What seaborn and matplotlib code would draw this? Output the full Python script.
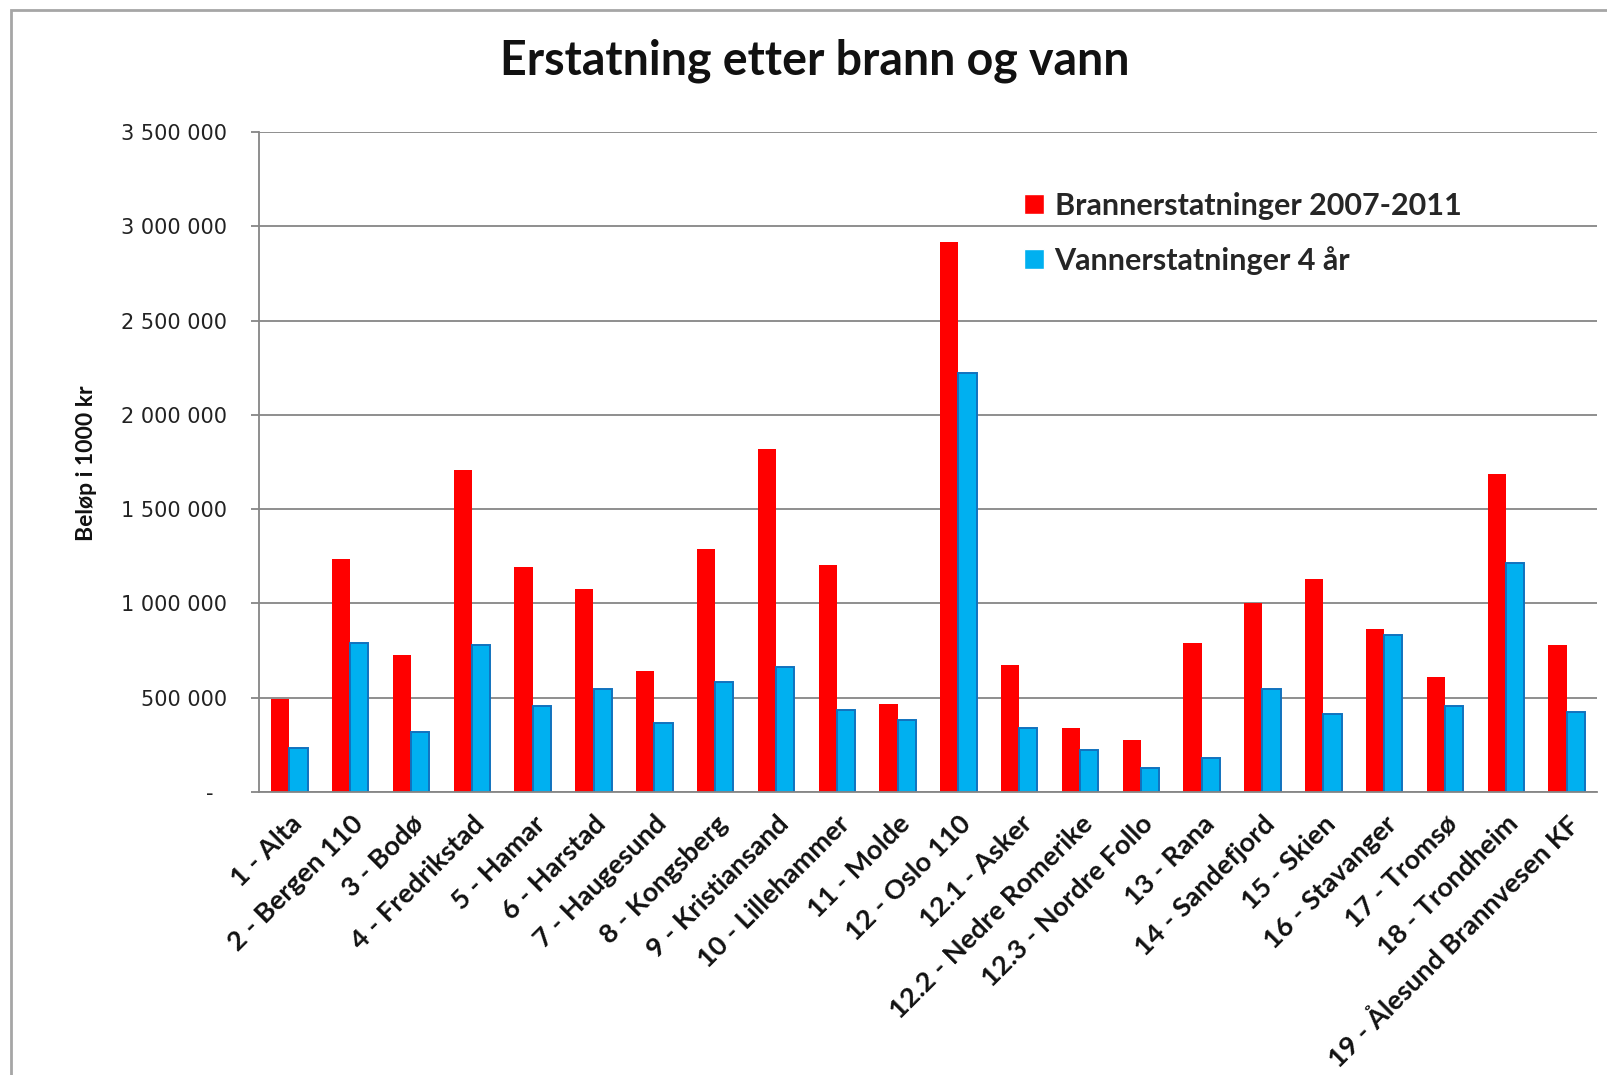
import pandas as pd
import seaborn as sns
import matplotlib.pyplot as plt
from matplotlib.patches import Rectangle

# === Data ===
categories = ["1 - Alta", "2 - Bergen 110", "3 - Bodø", "4 - Fredrikstad", "5 - Hamar",
              "6 - Harstad", "7 - Haugesund", "8 - Kongsberg", "9 - Kristiansand",
              "10 - Lillehammer", "11 - Molde", "12 - Oslo 110", "12.1 - Asker",
              "12.2 - Nedre Romerike", "12.3 - Nordre Follo", "13 - Rana", "14 - Sandefjord",
              "15 - Skien", "16 - Stavanger", "17 - Tromsø", "18 - Trondheim",
              "19 - Ålesund Brannvesen KF"]
brann = [494000, 1236000, 726000, 1705000, 1195000, 1077000, 640000, 1291000, 1821000,
         1203000, 467000, 2919000, 671000, 339000, 276000, 791000, 1002000, 1132000,
         866000, 610000, 1685000, 780000]
vann = [234000, 789000, 319000, 778000, 457000, 545000, 364000, 585000, 661000,
        437000, 382000, 2224000, 339000, 222000, 128000, 181000, 544000, 416000,
        833000, 458000, 1214000, 425000]
series = ["Brannerstatninger 2007-2011", "Vannerstatninger 4 år"]
ytick_values = [0, 500000, 1000000, 1500000, 2000000, 2500000, 3000000, 3500000]
ytick_labels = ["-  ", "500 000", "1 000 000", "1 500 000", "2 000 000",
                "2 500 000", "3 000 000", "3 500 000"]

df = pd.DataFrame({
    "kategori": categories * 2,
    "serie": [series[0]] * len(categories) + [series[1]] * len(categories),
    "belop": brann + vann,
})

# === Plot ===
sns.set_style("white")
plt.rcParams["font.family"] = ["Lato", "DejaVu Sans"]

grid_col = "#868686"
fig = plt.figure(figsize=(16.08, 10.75), dpi=100)
ax = fig.add_axes([259 / 1608, 1 - 792 / 1075, (1597 - 259) / 1608, (792 - 132) / 1075])

sns.barplot(data=df, x="kategori", y="belop", hue="serie", order=categories,
            hue_order=series, palette=["#FF0000", "#00B0F0"], saturation=1,
            width=0.6, errorbar=None, ax=ax)

for bar in ax.containers[0]:
    bar.set_edgecolor("none")
for bar in ax.containers[1]:
    bar.set_edgecolor("#1172BE")
    bar.set_linewidth(1.4)

ax.set_ylim(0, 3500000)
ax.set_xlim(-0.5, len(categories) - 0.5)
ax.set_yticks(ytick_values)
ax.set_yticklabels(ytick_labels, fontfamily="DejaVu Sans", fontsize=15, color="#222222")
ax.yaxis.grid(True, color=grid_col, linewidth=1.3)
ax.set_axisbelow(True)
for s in ["top", "right"]:
    ax.spines[s].set_visible(False)
for s in ["left", "bottom"]:
    ax.spines[s].set_color(grid_col)
    ax.spines[s].set_linewidth(1.3)
ax.tick_params(axis="y", which="major", length=6, width=1.3, color=grid_col, pad=17, left=True)
ax.tick_params(axis="x", length=0, pad=14)
ax.set_xticks(range(len(categories)))
ax.set_xticklabels(categories, rotation=45, ha="right", rotation_mode="anchor",
                   fontsize=19.5, fontweight="bold", color="#111111")
ax.set_xlabel("")
ax.set_ylabel("")

# legend
handles, labels = ax.get_legend_handles_labels()
ax.get_legend().remove()
fig.legend(handles, labels, loc="upper left", bbox_to_anchor=(1024 / 1608, 1 - 192 / 1075),
           frameon=False, prop={"family": "Lato", "weight": "bold", "size": 22},
           handlelength=0.65, handleheight=0.65, handletextpad=0.35, labelspacing=0.85,
           borderpad=0, borderaxespad=0)

fig.text(815 / 1608, 1 - 61 / 1075, "Erstatning etter brann og vann", ha="center",
         va="center", fontsize=33.5, fontweight="bold", color="#111111")
fig.text(87 / 1608, 1 - 463 / 1075, "Beløp i 1000 kr", rotation=90, ha="center",
         va="center", fontsize=16.5, fontweight="bold", color="#111111")

# chart area frame
fig.patches.append(Rectangle((11 / 1608, -0.1), 1.2, 1.1 - 10 / 1075, transform=fig.transFigure,
                             fill=False, edgecolor="#A6A6A6", linewidth=2))

plt.savefig("out.png", dpi=100)
plt.close()
